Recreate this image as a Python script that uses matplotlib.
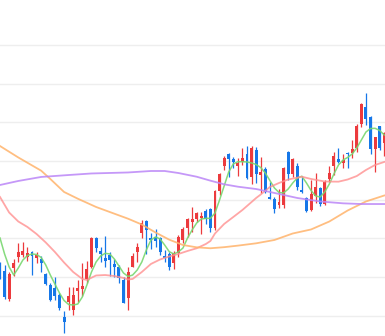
import numpy as np
import matplotlib
matplotlib.use("Agg")
import matplotlib.pyplot as plt

# daily candles, oldest first
opens = [10.656, 10.578, 10.216, 10.613, 10.755, 10.785, 10.763, 10.828, 10.742, 10.729,
         10.539, 10.397, 10.358, 10.268, 9.987, 10.171, 10.074, 10.323, 10.345, 10.475,
         10.634, 11.005, 10.843, 10.742, 10.785, 10.669, 10.634, 10.468, 10.229, 10.636,
         10.824, 11.073, 11.225, 10.998, 11.014, 11.001, 10.772, 10.798, 10.678, 10.811,
         10.979, 11.130, 11.216, 11.250, 11.259, 11.354, 11.376, 11.130, 11.612, 11.936,
         12.091, 12.024, 11.936, 11.988, 12.091, 11.794, 12.143, 11.813, 11.897, 11.539,
         11.509, 11.425, 11.431, 12.117, 11.830, 11.932, 11.625, 11.518, 11.371, 11.554,
         11.647, 11.444, 11.764, 11.936, 12.024, 11.971, 12.108, 12.108, 12.165, 12.475,
         12.695, 12.566, 12.149, 12.447, 12.229]
highs = [10.694, 10.656, 10.565, 10.733, 10.940, 10.957, 10.892, 10.837, 10.828, 10.772,
         10.556, 10.423, 10.504, 10.294, 10.061, 10.375, 10.375, 10.462, 10.681, 10.707,
         11.024, 11.018, 10.882, 11.027, 10.824, 10.733, 10.656, 10.504, 10.630, 10.807,
         10.936, 11.238, 11.238, 11.069, 11.121, 11.018, 10.850, 10.828, 10.837, 11.037,
         11.141, 11.259, 11.409, 11.347, 11.345, 11.376, 11.389, 11.625, 11.841, 12.065,
         12.100, 12.046, 12.035, 12.165, 12.188, 12.194, 12.185, 12.046, 11.927, 11.733,
         11.539, 11.638, 11.927, 12.127, 12.039, 11.968, 11.800, 11.531, 11.755, 11.841,
         11.668, 11.761, 11.942, 12.121, 12.165, 12.097, 12.121, 12.272, 12.479, 12.747,
         12.880, 12.582, 12.315, 12.459, 12.379]
lows = [10.475, 10.216, 10.190, 10.513, 10.698, 10.755, 10.707, 10.526, 10.678, 10.569,
        10.397, 10.194, 10.203, 10.074, 9.776, 10.074, 10.009, 10.181, 10.255, 10.429,
        10.617, 10.824, 10.688, 10.630, 10.513, 10.504, 10.419, 10.158, 10.074, 10.630,
        10.694, 11.011, 10.798, 10.862, 10.892, 10.785, 10.688, 10.591, 10.610, 10.759,
        10.940, 11.018, 11.082, 11.212, 11.050, 11.192, 11.086, 11.108, 11.561, 11.884,
        11.797, 11.906, 11.806, 11.949, 11.764, 11.703, 11.720, 11.587, 11.583, 11.505,
        11.328, 11.393, 11.389, 11.755, 11.794, 11.625, 11.587, 11.345, 11.360, 11.453,
        11.419, 11.431, 11.733, 11.819, 11.971, 11.910, 11.910, 12.039, 12.123, 12.440,
        12.466, 12.091, 11.862, 12.143, 12.065]
closes = [10.500, 10.242, 10.539, 10.685, 10.828, 10.841, 10.807, 10.772, 10.785, 10.685,
          10.410, 10.203, 10.255, 10.100, 9.922, 10.261, 10.268, 10.354, 10.384, 10.604,
          11.005, 10.875, 10.804, 10.711, 10.720, 10.634, 10.484, 10.164, 10.565, 10.772,
          10.882, 11.199, 11.108, 10.983, 10.970, 10.828, 10.742, 10.636, 10.817, 11.018,
          11.121, 11.247, 11.247, 11.322, 11.289, 11.247, 11.134, 11.612, 11.826, 12.039,
          12.022, 11.991, 11.978, 12.035, 11.777, 12.165, 11.826, 11.862, 11.603, 11.509,
          11.380, 11.474, 11.906, 11.826, 12.020, 11.658, 11.600, 11.358, 11.574, 11.660,
          11.441, 11.735, 11.845, 12.065, 11.991, 12.013, 12.088, 12.152, 12.453, 12.737,
          12.540, 12.152, 12.307, 12.165, 12.366]

# moving average lines, read at the listed day numbers
ma5 = [11.005, 10.798, 10.630, 10.526, 10.617, 10.720, 10.778, 10.798, 10.791, 10.753,
       10.656, 10.526, 10.410, 10.294, 10.197, 10.145, 10.138, 10.151, 10.242, 10.397,
       10.565, 10.694, 10.772, 10.807, 10.798, 10.733, 10.643, 10.552, 10.507, 10.526,
       10.591, 10.694, 10.850, 10.979, 11.018, 10.992, 10.914, 10.828, 10.798, 10.824,
       10.875, 11.005, 11.108, 11.199, 11.250, 11.259, 11.259, 11.328, 11.496, 11.677,
       11.858, 11.962, 11.991, 11.991, 11.988, 11.975, 11.955, 11.916, 11.845, 11.748,
       11.651, 11.593, 11.587, 11.638, 11.716, 11.781, 11.803, 11.716, 11.619, 11.548,
       11.535, 11.600, 11.703, 11.832, 11.949, 12.013, 12.046, 12.091, 12.169, 12.272,
       12.375, 12.420, 12.423, 12.395, 12.337]

ma20_days = [0, 2, 4, 6, 8, 10, 12, 14, 16, 18, 19, 21, 23, 25, 27, 28, 29, 31, 33, 35,
             37, 39, 41, 43, 45, 46, 47, 49, 51, 53, 55, 56, 57, 59, 61, 63, 66, 68, 71,
             74, 76, 78, 80, 82, 84]
ma20 = [11.535, 11.334, 11.218, 11.147, 11.056, 10.947, 10.824, 10.688, 10.565, 10.475,
        10.462, 10.520, 10.526, 10.513, 10.488, 10.468, 10.475, 10.565, 10.669, 10.727,
        10.766, 10.798, 10.837, 10.872, 10.927, 10.966, 11.063, 11.186, 11.276, 11.367,
        11.470, 11.522, 11.567, 11.664, 11.716, 11.761, 11.797, 11.768, 11.735, 11.733,
        11.761, 11.806, 11.884, 11.949, 11.988]

ma60_days = [0, 4, 9, 11, 14, 17, 21, 25, 28, 31, 34, 37, 40, 43, 46, 49, 52, 56, 60,
             64, 68, 72, 76, 80, 84]
ma60 = [12.194, 12.046, 11.875, 11.768, 11.600, 11.513, 11.406, 11.319, 11.254, 11.179,
        11.076, 10.983, 10.914, 10.884, 10.872, 10.886, 10.906, 10.936, 10.979, 11.063,
        11.115, 11.218, 11.360, 11.477, 11.554]

ma120_days = [0, 4, 9, 15, 20, 28, 33, 36, 39, 43, 46, 49, 52, 56, 60, 65, 70, 75, 79, 84]
ma120 = [11.690, 11.742, 11.794, 11.819, 11.839, 11.852, 11.871, 11.871, 11.845, 11.797,
         11.746, 11.699, 11.668, 11.638, 11.587, 11.522, 11.477, 11.453, 11.444, 11.444]

grid_levels = [10.0, 10.5, 11.0, 11.5, 12.0, 12.5, 13.0, 13.5]

UP = "#ec3a3d"
DOWN = "#1677e8"

fig = plt.figure(figsize=(3.85, 3.36), dpi=100)
ax = fig.add_axes([0, 0, 1, 1])

days = np.arange(len(opens))
o = np.array(opens)
c = np.array(closes)
up = c >= o
colors = np.where(up, UP, DOWN)

# wicks then bodies
ax.vlines(days, lows, highs, colors=colors, linewidth=0.9, zorder=2)
body_low = np.minimum(o, c)
body_h = np.maximum(np.abs(c - o), 0.018)
ax.bar(days, body_h, bottom=body_low, width=0.64, color=colors, linewidth=0, zorder=3)

ax.plot(np.arange(len(ma5)), ma5, color="#79d770", lw=1.1, alpha=0.9, zorder=4)
ax.plot(ma20_days, ma20, color="#ff9090", lw=1.3, alpha=0.8, zorder=4)
ax.plot(ma60_days, ma60, color="#ffb36b", lw=1.3, alpha=0.85, zorder=4)
ax.plot(ma120_days, ma120, color="#bb86f7", lw=1.3, alpha=0.85, zorder=4)

for g in grid_levels:
    ax.axhline(g, color="#eeeeee", lw=1.0, zorder=0)

ax.set_xlim(0, 84.17)
ax.set_ylim(9.7375, 14.082)
ax.set_axis_off()

fig.savefig("out.png", dpi=100, facecolor="white")
